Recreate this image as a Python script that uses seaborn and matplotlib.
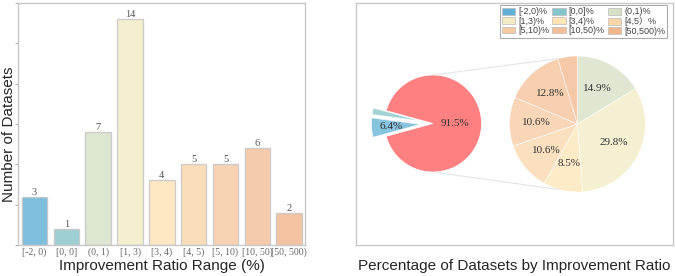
import matplotlib
matplotlib.use("Agg")
import matplotlib.pyplot as plt
import seaborn as sns
import pandas as pd
import numpy as np
from matplotlib.patches import Patch

# ---------------- data ----------------
categories = ["[-2, 0)", "[0, 0]", "(0, 1)", "[1, 3)", "[3, 4)", "[4, 5)",
              "[5, 10)", "[10, 50)", "[50, 500)"]
counts = [3, 1, 7, 14, 4, 5, 5, 6, 2]
legend_labels = ["[-2,0)%", "[0,0]%", "(0,1)%", "[1,3)%", "[3,4)%",
                 "[4,5）%", "[5,10)%", "[10,50)%", "[50,500)%"]
palette = ["#5eb0d5", "#85c4c9", "#d5e0c5", "#f2ebc4", "#fde3b5",
           "#f9d6a8", "#f7c9a0", "#f4bf96", "#f2b68b"]

sns.set_style("white")
plt.rcParams['font.family'] = ['Liberation Sans', 'DejaVu Sans', 'Noto Sans CJK SC']
SERIF = ['Liberation Serif', 'DejaVu Serif']

W, H = 676, 276
fig = plt.figure(figsize=(W / 100, H / 100), dpi=100)

# ---------------- left: bar chart ----------------
axL = fig.add_axes([18 / W, 1 - 245 / H, (305 - 18) / W, (245 - 3) / H])
df = pd.DataFrame({"range": categories, "count": counts})
sns.barplot(data=df, x="range", y="count", hue="range", palette=palette,
            legend=False, ax=axL, width=0.8, alpha=0.8,
            edgecolor="#c4c4c4", linewidth=1.0, saturation=1)
for c in axL.containers:
    axL.bar_label(c, fontsize=7.5, color="#555555", family=SERIF, padding=0)
axL.set_ylim(0, 15)
axL.set_xlim(-0.52, 8.5)
axL.set_yticks(np.arange(0, 15.1, 2.5))
axL.set_yticklabels([])
axL.tick_params(axis="y", left=True, length=2, width=0.6, color="#999999")
axL.tick_params(axis="x", length=0, pad=2)
for lbl in axL.get_xticklabels():
    lbl.set_fontfamily(SERIF)
    lbl.set_fontsize(7)
    lbl.set_color("#666666")
axL.set_xlabel("Improvement Ratio Range (%)", fontsize=11, labelpad=1)
axL.set_ylabel("Number of Datasets", fontsize=11)
axL.yaxis.set_label_coords(-0.006, 0.459)
for s in axL.spines.values():
    s.set_color("#c8c8c8")
    s.set_linewidth(1.0)

# ---------------- right: pie of pie ----------------
rx0, rx1, ry0, ry1 = 356, 673, 3, 245
axR = fig.add_axes([rx0 / W, 1 - ry1 / H, (rx1 - rx0) / W, (ry1 - ry0) / H])
total = sum(counts)
pct = [100 * c / total for c in counts]
improved = sum(counts[2:])

# pie geometry (layout)
cL, rL = (77, 121.5), 48.5
cR, rR = (221.5, 121), 68

red_frac = improved / total
left_vals = [improved, counts[1], counts[0]]
left_cols = ["#ff8080", palette[1], palette[0]]
wL, tL = axR.pie(left_vals, colors=left_cols, center=cL, radius=rL,
                 startangle=-180 * red_frac, explode=[0, 0.27 * rL, 0.27 * rL],
                 wedgeprops=dict(edgecolor="white", linewidth=0.5),
                 frame=True)
for w in wL[1:]:
    w.set_alpha(0.75)
left_labels = [100 * improved / total, pct[1], pct[0]]
for w, v, dist in zip(wL, left_labels, [0.45, 0.6, 0.6]):
    if v < 5:
        continue
    ang = np.deg2rad((w.theta1 + w.theta2) / 2)
    cx, cy = w.center
    axR.text(cx + dist * rL * np.cos(ang), cy + dist * rL * np.sin(ang),
             f"{v:.1f}%", ha="center", va="center", fontsize=8,
             family=SERIF, color="#333333")

wR, tR = axR.pie(counts[2:], colors=palette[2:], center=cR, radius=rR,
                 startangle=90, counterclock=False,
                 wedgeprops=dict(edgecolor="white", linewidth=0.5),
                 frame=True)
for w in wR:
    w.set_alpha(0.75)
for w, v in zip(wR, pct[2:]):
    if v < 5:
        continue
    ang = np.deg2rad((w.theta1 + w.theta2) / 2)
    axR.text(cR[0] + 0.6 * rR * np.cos(ang), cR[1] + 0.6 * rR * np.sin(ang),
             f"{v:.1f}%", ha="center", va="center", fontsize=8,
             family=SERIF, color="#333333")

# connection lines
for a in (105, 255):
    t = np.deg2rad(a)
    yl = cL[1] + (rL if a < 180 else -rL)
    axR.plot([cL[0], cR[0] + rR * np.cos(t)], [yl, cR[1] + rR * np.sin(t)],
             color="#e4e4e4", linewidth=0.8, zorder=0)

axR.set_aspect("auto")
axR.set_xlim(0, rx1 - rx0)
axR.set_ylim(0, ry1 - ry0)
axR.set_xticks([])
axR.set_yticks([])
for s in axR.spines.values():
    s.set_visible(True)
    s.set_color("#c8c8c8")
    s.set_linewidth(1.0)
axR.set_xlabel("Percentage of Datasets by Improvement Ratio", fontsize=11,
               labelpad=10)

# legend (row-major ordering in 3 columns)
handles = [Patch(facecolor=c, edgecolor="#bbbbbb", linewidth=0.5) for c in palette]
order = [0, 3, 6, 1, 4, 7, 2, 5, 8]
leg = axR.legend([handles[i] for i in order], [legend_labels[i] for i in order],
                 ncol=3, loc="upper right", bbox_to_anchor=(0.982, 0.99),
                 fontsize=6.5, handlelength=1.5, handleheight=0.8,
                 handletextpad=0.35, columnspacing=0.3, labelspacing=0.05,
                 borderpad=0.2, borderaxespad=0, fancybox=False, frameon=True)
leg.get_frame().set_edgecolor("#999999")
leg.get_frame().set_linewidth(0.8)
for t in leg.get_texts():
    t.set_color("#444444")

fig.savefig("out.png", dpi=100)
